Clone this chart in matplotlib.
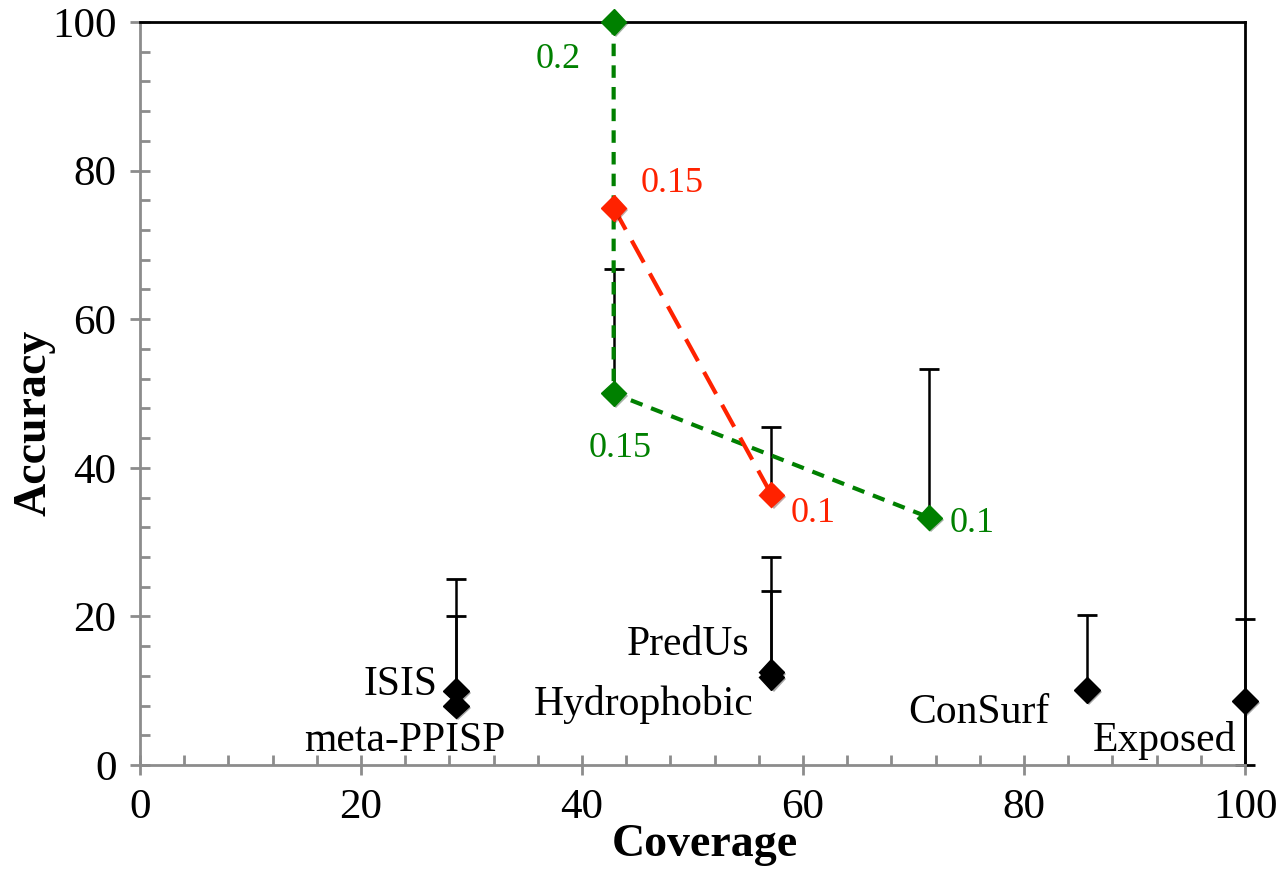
import matplotlib
matplotlib.use("Agg")
import matplotlib.pyplot as plt
from matplotlib.ticker import MultipleLocator
import matplotlib.patheffects as pe

plt.rcParams['font.family'] = ['Liberation Serif', 'DejaVu Serif']

# black: single methods
names = ["ISIS", "meta-PPISP", "PredUs", "Hydrophobic", "ConSurf", "Exposed"]
cov = [28.57, 28.57, 57.14, 57.14, 85.71, 100.0]
acc = [10.0, 8.0, 12.5, 11.8, 10.1, 8.6]
err_up = [15.0, 12.0, 15.5, 11.6, 10.1, 11.1]
err_lo = [0, 0, 0, 0, 0, 8.6]

# green series (thresholds)
g_cov = [42.86, 42.86, 71.43]
g_acc = [100.0, 50.0, 33.3]
g_up = [0, 16.7, 20.0]
g_lab = ["0.2", "0.15", "0.1"]

# red series
r_cov = [42.86, 57.14]
r_acc = [75.0, 36.4]
r_up = [0, 9.1]
r_lab = ["0.15", "0.1"]

green = "#008000"
red = "#ff2200"
shadow = [pe.SimplePatchShadow(offset=(1.5, -1.5), alpha=0.35), pe.Normal()]
ms = 13

fig = plt.figure(figsize=(12.8, 8.69), dpi=100)
ax = fig.add_axes([0.1094, 0.1197, 0.8633, 0.855])

eb = dict(fmt='none', ecolor='black', elinewidth=1.8, capsize=7, capthick=2, zorder=2)
for xs, ys, lo, up in [(cov, acc, err_lo, err_up),
                       (g_cov, g_acc, [0]*3, g_up),
                       (r_cov, r_acc, [0]*2, r_up)]:
    c = ax.errorbar(xs, ys, yerr=[lo, up], **eb)
    for art in list(c.lines[1]) + list(c.lines[2]):
        art.set_clip_on(False)

ax.plot(cov, acc, 'D', color='black', markersize=ms, zorder=4, clip_on=False,
        path_effects=shadow)
ax.plot(g_cov, g_acc, '--', color=green, lw=3, dashes=(3, 2.2), zorder=3)
ax.plot(g_cov, g_acc, 'D', color=green, markersize=ms, zorder=3, clip_on=False,
        path_effects=shadow)
ax.plot(r_cov, r_acc, '--', color=red, lw=3, dashes=(6, 3), zorder=3)
ax.plot(r_cov, r_acc, 'D', color=red, markersize=ms, zorder=3, clip_on=False,
        path_effects=shadow)

# method labels
fs = 30
txt_pos = {
    "ISIS": (26.9, 10.8),
    "meta-PPISP": (33.1, 3.2),
    "PredUs": (55.1, 16.2),
    "Hydrophobic": (55.5, 8.1),
    "ConSurf": (82.3, 7.0),
    "Exposed": (99.2, 3.3),
}
for n in names:
    x, y = txt_pos[n]
    ax.text(x, y, n, ha='right', va='center', fontsize=fs)

# threshold labels
tfs = 26
ax.text(39.9, 95.0, g_lab[0], color=green, fontsize=tfs, ha='right', va='center')
ax.text(40.6, 42.6, g_lab[1], color=green, fontsize=tfs, ha='left', va='center')
ax.text(73.3, 32.5, g_lab[2], color=green, fontsize=tfs, ha='left', va='center')
ax.text(45.3, 78.3, r_lab[0], color=red, fontsize=tfs, ha='left', va='center')
ax.text(58.9, 33.9, r_lab[1], color=red, fontsize=tfs, ha='left', va='center')

ax.set_xlim(0, 100)
ax.set_ylim(0, 100)
ax.xaxis.set_major_locator(MultipleLocator(20))
ax.xaxis.set_minor_locator(MultipleLocator(4))
ax.yaxis.set_major_locator(MultipleLocator(20))
ax.yaxis.set_minor_locator(MultipleLocator(4))

grey = "#8c8c8c"
for s in ['left', 'bottom']:
    ax.spines[s].set_color(grey)
    ax.spines[s].set_linewidth(2)
for s in ['top', 'right']:
    ax.spines[s].set_color('black')
    ax.spines[s].set_linewidth(2)

ax.tick_params(which='major', direction='inout', length=14, width=2, color=grey,
               labelsize=31, pad=10)
ax.tick_params(which='minor', direction='in', length=7, width=2, color=grey)
ax.tick_params(top=False, right=False, which='both')

fig.text(0.551, 0.028, "Coverage", fontsize=33, fontweight='bold',
         ha='center', va='center')
fig.text(0.027, 0.514, "Accuracy", fontsize=33, fontweight='bold',
         ha='center', va='center', rotation=90)

fig.savefig("out.png", dpi=100)
